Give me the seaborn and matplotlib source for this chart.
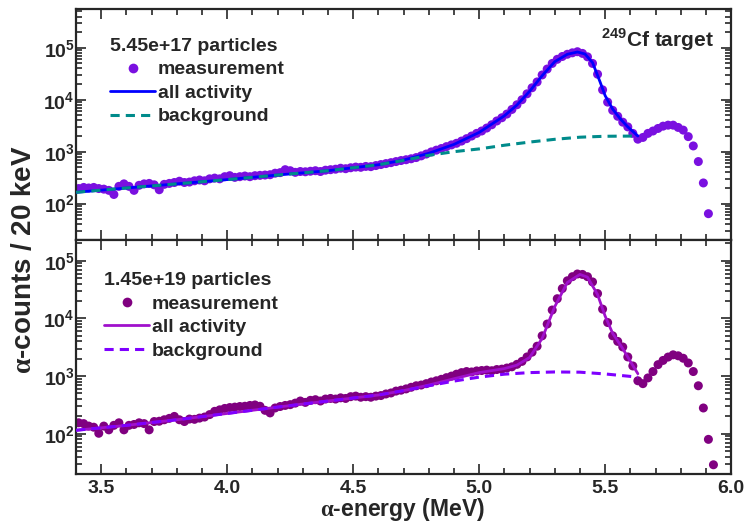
import numpy as np
import pandas as pd
import seaborn as sns
import matplotlib
matplotlib.use("Agg")
import matplotlib.pyplot as plt
from matplotlib.lines import Line2D
from matplotlib.ticker import FixedLocator, MultipleLocator, LogLocator, FuncFormatter, NullFormatter

# 20 keV bins, centres 3.41 ... 5.93 MeV
energy_top = np.round(np.arange(3.41, 5.915, 0.02), 2)
energy_bot = np.round(np.arange(3.41, 5.935, 0.02), 2)

counts_top = [
    195, 205, 200, 205, 195, 190, 180, 150, 215, 240,
    215, 180, 225, 240, 245, 230, 185, 235, 245, 255,
    270, 255, 260, 275, 285, 275, 300, 310, 300, 330,
    345, 320, 330, 340, 330, 345, 350, 355, 360, 385,
    395, 450, 430, 400, 415, 410, 420, 430, 415, 440,
    450, 460, 480, 470, 490, 505, 500, 520, 515, 540,
    565, 590, 615, 645, 675, 700, 730, 770, 830, 900,
    990, 1070, 1150, 1250, 1350, 1450, 1600, 1780, 2000, 2250,
    2500, 2850, 3300, 3900, 4500, 5300, 6500, 8000, 10000, 13000,
    17000, 22000, 30000, 39000, 50000, 60000, 68000, 75000, 80000, 84000,
    78000, 67000, 50000, 31000, 15500, 9000, 6250, 4800, 3700, 3000,
    2250, 1740, 1880, 2250, 2500, 2800, 3100, 3240, 3240, 2930,
    2600, 1950, 1290, 645, 250, 64,
]

counts_bot = [
    155, 150, 136, 130, 102, 136, 117, 140, 155, 117,
    140, 145, 155, 150, 117, 163, 165, 175, 185, 200,
    175, 163, 180, 178, 187, 195, 215, 245, 260, 275,
    285, 290, 297, 300, 310, 316, 300, 255, 230, 280,
    297, 310, 320, 340, 370, 350, 380, 390, 370, 400,
    410, 400, 420, 410, 440, 450, 430, 440, 430, 450,
    460, 490, 510, 550, 570, 600, 640, 680, 700, 740,
    790, 830, 880, 940, 1000, 1080, 1150, 1200, 1180, 1230,
    1250, 1270, 1240, 1300, 1320, 1380, 1450, 1600, 1800, 2150,
    2600, 3300, 5000, 8000, 14000, 22000, 33000, 45000, 53000, 59000,
    58000, 53000, 43000, 27000, 14500, 8500, 5000, 4000, 3200, 2150,
    1500, 830, 740, 930, 1200, 1580, 1870, 2140, 2340, 2250,
    2040, 1690, 1200, 680, 280, 80, 29,
]

# fitted curves
bg_top_e = [3.40, 3.60, 3.80, 4.00, 4.20, 4.40, 4.60, 4.70, 4.80, 4.90, 5.00, 5.10, 5.20, 5.30, 5.40, 5.50, 5.63]
bg_top = [165, 200, 240, 290, 355, 430, 560, 680, 850, 1000, 1130, 1330, 1530, 1730, 1900, 1980, 2000]
all_top_e = [3.40, 3.60, 3.80, 4.00, 4.20, 4.40, 4.60, 4.70, 4.80, 4.90, 5.00, 5.10, 5.15, 5.20, 5.25,
             5.30, 5.35, 5.39, 5.42, 5.45, 5.48, 5.50, 5.53, 5.56, 5.59, 5.63]
all_top = [165, 200, 240, 290, 355, 430, 560, 690, 930, 1380, 2350, 4900, 7900, 14500, 29000,
           54000, 75000, 83000, 76000, 52000, 22000, 12000, 6600, 4300, 3000, 2000]

bg_bot_e = [3.40, 3.60, 3.80, 4.00, 4.20, 4.40, 4.60, 4.70, 4.80, 4.90, 5.00, 5.10, 5.20, 5.30, 5.40, 5.50, 5.63]
bg_bot = [115, 140, 175, 225, 290, 370, 470, 560, 680, 820, 960, 1080, 1150, 1180, 1170, 1090, 960]
all_bot_e = [3.40, 3.60, 3.80, 4.00, 4.20, 4.40, 4.60, 4.70, 4.80, 4.90, 5.00, 5.10, 5.15, 5.20, 5.25,
             5.30, 5.35, 5.40, 5.43, 5.47, 5.50, 5.53, 5.57, 5.60, 5.63]
all_bot = [115, 140, 175, 225, 290, 370, 470, 560, 700, 900, 1150, 1350, 1550, 2100, 4500,
           16000, 42000, 58000, 52000, 26000, 11000, 5500, 3000, 1800, 1100]

sns.set_theme(style="ticks")
plt.rcParams["font.family"] = ["Liberation Sans", "DejaVu Sans"]
plt.rcParams["font.weight"] = "bold"
plt.rcParams["mathtext.fontset"] = "custom"
plt.rcParams["mathtext.bf"] = "Liberation Sans:bold"
plt.rcParams["mathtext.rm"] = "Liberation Sans:bold"
plt.rcParams["mathtext.sf"] = "Liberation Serif"

fig = plt.figure(figsize=(7.46, 5.25), dpi=100)
ax1 = fig.add_axes([0.102, 0.543, 0.878, 0.440])
ax2 = fig.add_axes([0.102, 0.097, 0.878, 0.446])

panels = [
    (ax1, energy_top, counts_top, bg_top_e, bg_top, all_top_e, all_top,
     "#7a10e0", "#0000ff", "#008b8b", "5.45e+17 particles", (20, 5.6e5), (0.052, 0.874)),
    (ax2, energy_bot, counts_bot, bg_bot_e, bg_bot, all_bot_e, all_bot,
     "#800080", "#a010cc", "#7f00ff", "1.45e+19 particles", (20, 2.3e5), (0.043, 0.862)),
]

for ax, e, c, be, b, ae, a, mcol, acol, bcol, title, ylim, anchor in panels:
    sns.scatterplot(x=e, y=c, ax=ax, color=mcol, s=42, edgecolor="none", zorder=2)
    sns.lineplot(x=ae, y=a, ax=ax, color=acol, lw=2, zorder=3)
    sns.lineplot(x=be, y=b, ax=ax, color=bcol, lw=2.2, ls=(0, (3, 2)), zorder=4)
    ax.set_yscale("log")
    ax.set_xlim(3.4, 6.0)
    ax.set_ylim(*ylim)
    ax.xaxis.set_major_locator(MultipleLocator(0.5))
    ax.xaxis.set_minor_locator(MultipleLocator(0.1))
    ax.yaxis.set_major_locator(FixedLocator([1e2, 1e3, 1e4, 1e5]))
    ax.yaxis.set_minor_locator(LogLocator(base=10, subs=np.arange(2, 10)))
    ax.yaxis.set_major_formatter(FuncFormatter(lambda v, p: r"$\mathbf{10^{%d}}$" % round(np.log10(v))))
    ax.yaxis.set_minor_formatter(NullFormatter())
    ax.tick_params(which="both", direction="in", top=True, right=True, width=1.2, labelsize=14)
    ax.tick_params(axis="y", pad=1)
    ax.tick_params(axis="x", pad=4)
    ax.tick_params(which="major", length=7)
    ax.tick_params(which="minor", length=4)
    for sp in ax.spines.values():
        sp.set_linewidth(1.6)
    handles = [
        Line2D([], [], ls="none", marker="o", ms=7, color=mcol, mec="none", label="measurement"),
        Line2D([], [], color=acol, lw=2, label="all activity"),
        Line2D([], [], color=bcol, lw=2.2, ls=(0, (3, 2)), label="background"),
    ]
    leg = ax.legend(handles=handles, title=title, loc="upper left", bbox_to_anchor=anchor,
                    frameon=False, fontsize=14, title_fontsize=14, handlelength=2.3,
                    handletextpad=0.15, labelspacing=0.3, borderpad=0, borderaxespad=0,
                    alignment="left")
    leg.get_title().set_fontweight("bold")

ax1.tick_params(labelbottom=False)
ax2.xaxis.set_major_formatter(FuncFormatter(lambda v, p: "%.1f" % v))

ax1.text(0.974, 0.865, r"$^{\mathbf{249}}$Cf target", transform=ax1.transAxes,
         ha="right", va="center", fontsize=15, fontweight="bold")

fig.text(0.032, 0.505, r"$\mathsf{\alpha}$-counts / 20 keV", rotation=90, ha="center", va="center",
         fontsize=20, fontweight="bold")
fig.text(0.539, 0.003, r"$\mathsf{\alpha}$-energy (MeV)", ha="center", va="bottom",
         fontsize=16.5, fontweight="bold")

fig.savefig("out.png", dpi=100)
